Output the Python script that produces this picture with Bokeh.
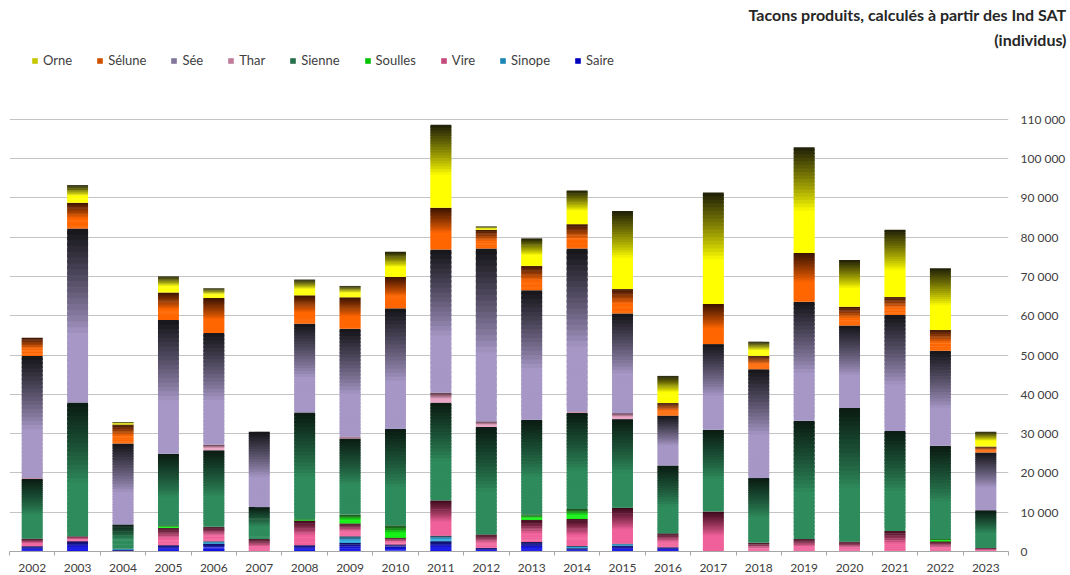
import numpy as np
from bokeh.plotting import figure
from bokeh.models import ColumnDataSource, Legend, LegendItem, Title, FixedTicker, Range1d
from bokeh.embed import file_html
from bokeh.resources import INLINE

years = list(range(2002, 2024))
# stacked bottom -> top
saire   = [1350, 2600, 400, 1600, 2000, 0, 1600, 2200, 1800, 2600, 900, 2400, 800, 1500, 1100, 0, 0, 0, 0, 0, 0, 0]
sinope  = [0, 0, 300, 0, 600, 0, 0, 1700, 0, 1400, 0, 0, 600, 500, 0, 0, 0, 0, 0, 0, 0, 0]
vire    = [1900, 1300, 0, 4400, 3700, 3200, 6300, 3200, 1700, 9000, 3400, 5600, 6900, 9100, 3500, 10200, 2200, 3200, 2500, 5200, 2600, 900]
soulles = [0, 0, 0, 600, 0, 0, 300, 2300, 3100, 0, 0, 1400, 2500, 0, 0, 0, 0, 0, 0, 0, 600, 0]
sienne  = [15200, 34000, 6200, 18300, 19500, 8100, 27200, 19400, 24600, 24900, 27400, 24100, 24500, 22600, 17300, 20800, 16500, 30100, 34000, 25500, 23700, 9600]
thar    = [300, 0, 0, 0, 1400, 0, 0, 400, 0, 2500, 1400, 0, 300, 1500, 0, 0, 0, 0, 0, 0, 0, 0]
see     = [31000, 44300, 20600, 34000, 28400, 19200, 22600, 27500, 30700, 36500, 44000, 33000, 41500, 25400, 12700, 21800, 27700, 30300, 21000, 29500, 24200, 14700]
selune  = [4650, 6600, 4800, 7000, 8900, 0, 7200, 8000, 8000, 10600, 4800, 6200, 6200, 6200, 3200, 10200, 3400, 12400, 4800, 4600, 5300, 1500]
orne    = [0, 4400, 600, 4100, 2500, 0, 4000, 2900, 6400, 21100, 800, 7000, 8600, 19900, 6900, 28400, 3600, 26900, 11900, 17100, 15700, 3800]

names = ["Saire", "Sinope", "Vire", "Soulles", "Sienne", "Thar", "Sée", "Sélune", "Orne"]
values = [saire, sinope, vire, soulles, sienne, thar, see, selune, orne]
y_ticks = list(range(0, 110001, 10000))
title_lines = ["Tacons produits, calculés à partir des Ind SAT", "(individus)"]

base_col = {"Saire": "#0000e6", "Sinope": "#1fa3d9", "Vire": "#f0609a", "Soulles": "#00f000",
            "Sienne": "#2e8b5c", "Thar": "#e79abf", "Sée": "#a697c6", "Sélune": "#ff6600", "Orne": "#ffff00"}
dark_col = {"Saire": "#00004a", "Sinope": "#0a2a40", "Vire": "#3a0818", "Soulles": "#0a3a0a",
            "Sienne": "#0a1a12", "Thar": "#4a2030", "Sée": "#141418", "Sélune": "#3a1200", "Orne": "#1e1e08"}

def hex2rgb(h):
    return np.array([int(h[i:i + 2], 16) for i in (1, 3, 5)], dtype=float)

def rgb2hex(c):
    return "#%02x%02x%02x" % tuple(int(round(v)) for v in c)

# layout (pixels in figure) used to leave room above the 110 000 gridline
FRAME_TOP, FRAME_BOTTOM, TOP_GRID = 50, 552, 119
y_max = 110000 * (FRAME_BOTTOM - FRAME_TOP) / (FRAME_BOTTOM - TOP_GRID)

N = 30
W = 0.46
p = figure(width=1068, height=574, output_backend="svg", toolbar_location=None, title=None,
           x_range=Range1d(2001.5, 2023.5), y_range=Range1d(0, y_max),
           y_axis_location="right", min_border_left=9, min_border_right=56,
           min_border_top=48, min_border_bottom=10, outline_line_color=None)

renderers = {}
cum = np.zeros(len(years))
for name, vals in zip(names, values):
    vals = np.array(vals, dtype=float)
    b_rgb, d_rgb = hex2rgb(base_col[name]), hex2rgb(dark_col[name])
    L, R, B, T, C = [], [], [], [], []
    for i, yr in enumerate(years):
        v = vals[i]
        if v <= 0:
            continue
        bot = cum[i]
        step = v / N
        for k in range(N):
            t = (k + 0.5) / N
            mix = 0.0 if t <= 0.4 else ((t - 0.4) / 0.6) ** 0.85
            col = b_rgb + (d_rgb - b_rgb) * mix
            L.append(yr - W / 2)
            R.append(yr + W / 2)
            B.append(bot + k * step)
            T.append(min(bot + (k + 1.6) * step, bot + v))
            C.append(rgb2hex(col))
    cum = cum + vals
    src = ColumnDataSource(dict(left=L, right=R, bottom=B, top=T, color=C))
    renderers[name] = (p.quad(left="left", right="right", bottom="bottom", top="top",
                              fill_color="color", line_color=None, source=src), N // 2)

items = [LegendItem(label=n, renderers=[renderers[n][0]], index=renderers[n][1]) for n in reversed(names)]
legend = Legend(items=items, orientation="horizontal", location=(22, FRAME_BOTTOM - 69),
                glyph_width=7, glyph_height=7, label_text_font="Lato", label_text_font_size="13px",
                label_text_color="#404040", spacing=24, label_standoff=5, padding=0, margin=0,
                label_height=14, border_line_color=None, background_fill_alpha=0)
p.add_layout(legend, "center")

for line in reversed(title_lines):
    p.add_layout(Title(text=line, align="right", offset=-58, standoff=4, text_font="Lato",
                       text_font_style="bold", text_font_size="16px", text_color="#262626"), "above")

p.yaxis.ticker = FixedTicker(ticks=y_ticks)
p.yaxis.major_label_overrides = {v: f"{v:,}".replace(",", " ") for v in y_ticks}
p.yaxis.axis_line_color = None
p.yaxis.major_tick_line_color = None
p.yaxis.major_tick_out = 0
p.yaxis.minor_tick_line_color = None
p.yaxis.major_label_standoff = 12
p.yaxis.major_label_text_font = "Lato"
p.yaxis.major_label_text_font_size = "12px"
p.yaxis.major_label_text_color = "#404040"
p.yaxis.major_label_text_align = "left"

p.xaxis.ticker = FixedTicker(ticks=years, minor_ticks=[y - 0.5 for y in years] + [years[-1] + 0.5])
p.xaxis.major_label_overrides = {y: str(y) for y in years}
p.xaxis.axis_line_color = "#a6a6a6"
p.xaxis.major_tick_line_color = None
p.xaxis.major_tick_out = 0
p.xaxis.major_tick_in = 0
p.xaxis.minor_tick_line_color = "#a6a6a6"
p.xaxis.minor_tick_in = 0
p.xaxis.minor_tick_out = 4
p.xaxis.major_label_standoff = 8
p.xaxis.major_label_text_font = "Lato"
p.xaxis.major_label_text_font_size = "12px"
p.xaxis.major_label_text_color = "#404040"

p.xgrid.grid_line_color = None
p.ygrid.grid_line_color = "#c4c4c4"
p.ygrid.ticker = FixedTicker(ticks=y_ticks)

open("out.html", "w").write(file_html(p, INLINE))
